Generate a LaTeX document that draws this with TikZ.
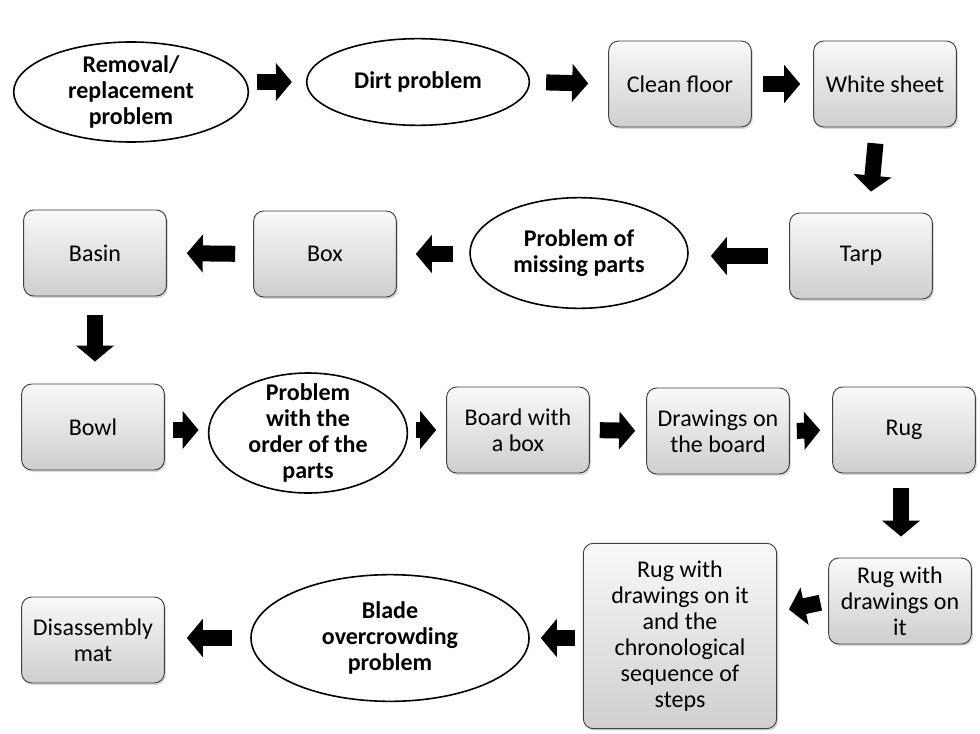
\documentclass[tikz,border=0pt]{standalone}
\usepackage{fontspec}
\setmainfont{Carlito}
\usetikzlibrary{arrows.meta,shapes.geometric,shadows,calc}

\tikzset{
  stepbox/.style={draw=black!75, line width=0.7pt, rounded corners=7.5pt,
    top color=gray!5, bottom color=gray!38,
    drop shadow={shadow xshift=1.2pt,shadow yshift=-1.5pt,opacity=.3},
    minimum width=107pt, minimum height=64.5pt, align=center, inner sep=2pt,
    font=\fontsize{18}{19.5}\selectfont},
  probell/.style={draw, ellipse, fill=white, line width=1.2pt, inner sep=0pt},
  probtxt/.style={align=center, font=\fontsize{18}{19.5}\selectfont\bfseries},
  blk/.style 2 args={line width=12pt, -{Triangle[width=28pt,length=12pt]},
    shorten <=#1, shorten >=#2},
}

\begin{document}
\begin{tikzpicture}[x=0.75pt,y=-0.75pt]
\useasboundingbox (0,0) rectangle (980,734);

% row 1
\node[probell,minimum width=176pt,minimum height=75pt] (rem) at (131,92) {};
\node[probtxt] (rem-t) at (rem) {Removal/\\replacement\\problem};
\node[probell,minimum width=167pt,minimum height=65pt] (dirt) at (418,82) {};
\node[probtxt] (dirt-t) at (dirt) {Dirt problem};
\node[stepbox] (clean) at (680,84) {Clean floor};
\node[stepbox] (white) at (885,84) {White sheet};

% row 2
\node[stepbox] (tarp) at (861,256) {Tarp};
\node[probell,minimum width=163.5pt,minimum height=83pt] (miss) at (579,253) {};
\node[probtxt] (miss-t) at (miss) {Problem of\\missing parts};
\node[stepbox] (box) at (325,254) {Box};
\node[stepbox] (basin) at (95,253) {Basin};

% row 3
\node[stepbox] (bowl) at (93,427) {Bowl};
\node[probell,minimum width=149pt,minimum height=90pt] (order) at (308,433) {};
\node[probtxt] (order-t) at (order) {Problem\\with the\\order of the\\parts};
\node[stepbox] (board) at (518,430) {Board with\\a box};
\node[stepbox] (draw) at (718,431) {Drawings on\\the board};
\node[stepbox] (rug) at (904,430) {Rug};

% row 4
\node[stepbox] (rugw) at (900,601) {Rug with\\drawings on\\it};
\node[stepbox,minimum width=145pt,minimum height=139pt] (big) at (680,636)
  {Rug with\\drawings on it\\and the\\chronological\\sequence of\\steps};
\node[probell,minimum width=208.5pt,minimum height=95pt] (blade) at (390,638) {};
\node[probtxt] (blade-t) at (blade) {Blade\\overcrowding\\problem};
\node[stepbox] (mat) at (93,640) {Disassembly\\mat};

% block arrows
\draw[blk={6pt}{10.5pt}] (rem.east |- dirt.west) -- (dirt.west);
\draw[blk={12pt}{15pt}] (dirt.east) -- (clean.west);
\draw[blk={8.25pt}{9.75pt}] (clean.east) -- (white.west);
\draw[blk={12pt}{15.75pt}] ($(white.south)+(-8,0)$) -- ($(tarp.north)+(8,0)$);
\draw[blk={15.75pt}{16.5pt}] (tarp.west) -- (miss.east |- tarp.west);
\draw[blk={12pt}{14.25pt}] (miss.west |- box.east) -- (box.east);
\draw[blk={13.5pt}{15pt}] (box.west) -- (basin.east);
\draw[blk={14.25pt}{16.5pt}] (basin.south) -- (basin.south |- bowl.north);
\draw[blk={6pt}{7pt}] ($(bowl.east)+(0,3)$) -- ($(bowl.east -| order.west)+(0,3)$);
\draw[blk={6pt}{7.5pt}] (order.east |- board.west) -- (board.west);
\draw[blk={7.5pt}{8.25pt}] (board.east) -- (draw.west);
\draw[blk={5.25pt}{9pt}] (draw.east) -- (rug.west);
\draw[blk={11.25pt}{15.75pt}] ($(rug.south)+(-3,0)$) -- ($(rugw.north)+(1,0)$);
\draw[blk={6pt}{9pt}] (rugw.west) -- ($(big.east)+(0,-24)$);
\draw[blk={6pt}{8.25pt}] (big.west |- blade.east) -- (blade.east);
\draw[blk={13.5pt}{16.5pt}] (blade.west) -- (blade.west -| mat.east);
\end{tikzpicture}
\end{document}
